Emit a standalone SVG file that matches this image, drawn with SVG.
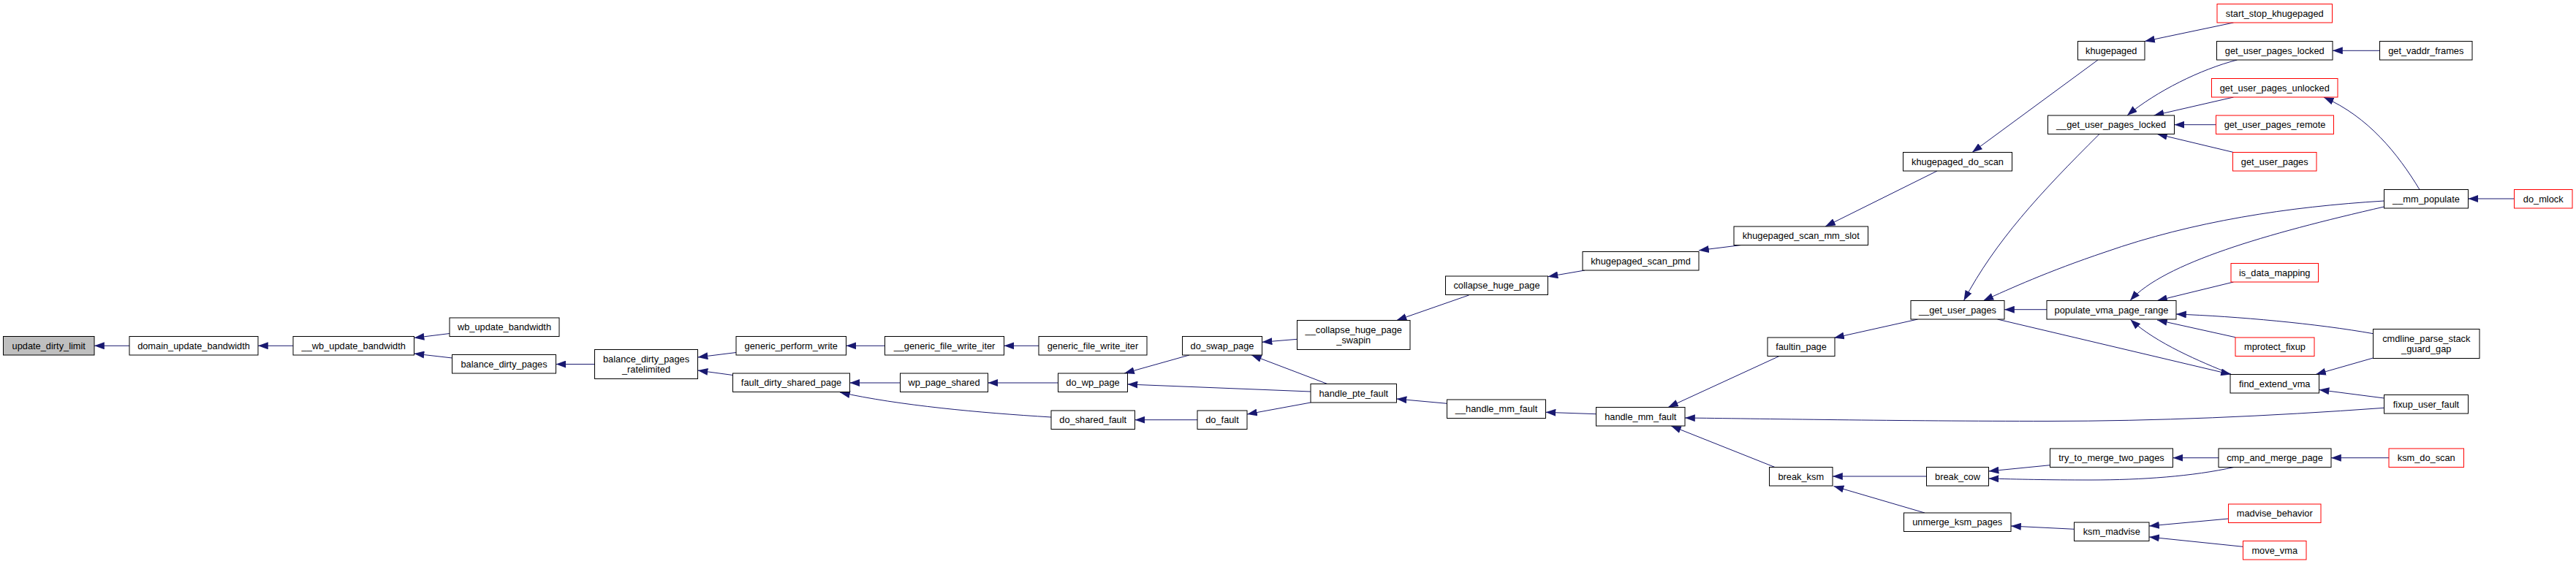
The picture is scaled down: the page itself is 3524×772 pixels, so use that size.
<svg xmlns="http://www.w3.org/2000/svg" width="3524" height="772" viewBox="0 0 3524 772">
<style>
.node rect{fill:#fff;stroke:#000;stroke-width:1}
.node.red rect{stroke:#ff0000}
.node.root rect{fill:#bfbfbf}
.node text{font-family:"Liberation Sans",Arial,sans-serif;font-size:12.8px;fill:#000;text-anchor:middle}
#edges path{fill:none;stroke:#191970;stroke-width:1;marker-end:url(#ah)}
</style>
<defs>
<marker id="ah" markerUnits="userSpaceOnUse" markerWidth="14" markerHeight="10" viewBox="0 0 13 9.4" refX="13" refY="4.7" orient="auto">
<path d="M0,0 L13,4.7 L0,9.4 z" fill="#191970" stroke="none"/>
</marker>
</defs>
<rect width="3524" height="772" fill="#fff"/>
<g id="edges">
<path d="M177,473.3 L129,473.3"/>
<path d="M401,473.3 L353,473.3"/>
<path d="M615,456.5 L566.5,462.5"/>
<path d="M618.5,490 L566.5,484"/>
<path d="M813.5,498.5 L760.5,498.5"/>
<path d="M1007,482.5 L954.5,489"/>
<path d="M1002.5,513.5 L954.5,507"/>
<path d="M1210.5,473.3 L1157.5,473.3"/>
<path d="M1421,473.3 L1373.5,473.3"/>
<path d="M1231.5,524 L1162.5,524"/>
<path d="M1447.5,524 L1351.5,524"/>
<path d="M1438,571 C1340,565 1230,555 1149,537"/>
<path d="M1627,486 L1538,511"/>
<path d="M1774.5,464.3 L1726.5,468.3"/>
<path d="M1815.8,525.5 L1712,486"/>
<path d="M1793,536 L1542.5,526"/>
<path d="M1793,551 L1706,567"/>
<path d="M1638,574.7 L1552.5,574.7"/>
<path d="M2009.5,404 L1910.5,438.5"/>
<path d="M2168,370 L2117.5,378.7"/>
<path d="M2382,335.5 L2324,342.7"/>
<path d="M2650,234 L2497,310"/>
<path d="M2870,82 L2698,208.5"/>
<path d="M3055.5,31 L2934,56.5"/>
<path d="M1979.5,552.3 L1910.5,546"/>
<path d="M2183.5,566.7 L2114.5,564.3"/>
<path d="M2434,487.5 L2282,557.5"/>
<path d="M3261.5,558.3 C3100,570 2950,576.5 2800,576.5 C2600,576.5 2400,573 2305,572"/>
<path d="M2428,639.5 L2286,583"/>
<path d="M2635.5,652 L2507,652"/>
<path d="M2633,702 L2508.5,665.5"/>
<path d="M2804.5,636.7 L2720.5,645"/>
<path d="M3056,639.5 C3000,652 2930,657 2860,657 C2800,657 2760,656 2720.5,655"/>
<path d="M3035,626.7 L2972.5,626.7"/>
<path d="M3268,626.7 L3189,626.7"/>
<path d="M2837.5,724.3 L2751,720"/>
<path d="M3048.5,710 L2940,720"/>
<path d="M3068.5,748.3 L2940,735"/>
<path d="M2800,423.7 L2742,423.7"/>
<path d="M2872,183.5 C2790,265 2730,330 2686.5,411.5"/>
<path d="M3261.5,275 C3130,283 3000,303 2880,345 C2800,372 2750,395 2713.3,411.5"/>
<path d="M3261.5,283 C3100,320 2960,360 2914,411.5"/>
<path d="M3055.5,386 L2951,411.5"/>
<path d="M3246.5,456.7 C3170,443 3060,433 2977,430"/>
<path d="M3058,461.7 L2951,438"/>
<path d="M3052,512 C3010,495 2950,470 2914.5,437.5"/>
<path d="M2732.5,437 L3052,512.5"/>
<path d="M3246.5,490 L3168,512.5"/>
<path d="M3261.5,545 L3172.5,533.5"/>
<path d="M3060.5,82 C3010,95 2950,125 2910,158"/>
<path d="M3055.5,133 L2946.5,158"/>
<path d="M3031.5,170.7 L2974.5,170.7"/>
<path d="M3055.5,208.5 L2951,183.5"/>
<path d="M3255.5,69.3 L3191,69.3"/>
<path d="M3310,259.5 C3280,210 3240,160 3178.8,133"/>
<path d="M3439.5,272 L3376.5,272"/>
<path d="M2623.5,437 L2509,462.5"/>
</g>
<g id="n_udl" class="node root"><rect x="4.5" y="460.5" width="124.5" height="25.5"/><text x="66.75" y="477.75">update_dirty_limit</text></g>
<g id="n_dub" class="node"><rect x="177" y="460.5" width="176" height="25.5"/><text x="265" y="477.75">domain_update_bandwidth</text></g>
<g id="n_wub" class="node"><rect x="401" y="460.5" width="165.5" height="25.5"/><text x="483.75" y="477.75">__wb_update_bandwidth</text></g>
<g id="n_wbu" class="node"><rect x="615" y="435" width="150" height="25.5"/><text x="690" y="452.25">wb_update_bandwidth</text></g>
<g id="n_bdp" class="node"><rect x="618.5" y="485.5" width="142" height="25.5"/><text x="689.5" y="502.75">balance_dirty_pages</text></g>
<g id="n_bdpr" class="node"><rect x="813.5" y="478.5" width="141" height="40"/><text x="884" y="496.35">balance_dirty_pages</text><text x="884" y="509.65">_ratelimited</text></g>
<g id="n_gpw" class="node"><rect x="1007" y="460.5" width="150.5" height="25.5"/><text x="1082.25" y="477.75">generic_perform_write</text></g>
<g id="n_fdsp" class="node"><rect x="1002.5" y="511" width="160" height="25.5"/><text x="1082.5" y="528.25">fault_dirty_shared_page</text></g>
<g id="n_gfwi2" class="node"><rect x="1210.5" y="460.5" width="163" height="25.5"/><text x="1292" y="477.75">__generic_file_write_iter</text></g>
<g id="n_gfwi" class="node"><rect x="1421" y="460.5" width="148" height="25.5"/><text x="1495" y="477.75">generic_file_write_iter</text></g>
<g id="n_dsp" class="node"><rect x="1617.5" y="460.5" width="109" height="25.5"/><text x="1672" y="477.75">do_swap_page</text></g>
<g id="n_wps" class="node"><rect x="1231.5" y="511" width="120" height="25.5"/><text x="1291.5" y="528.25">wp_page_shared</text></g>
<g id="n_dwp" class="node"><rect x="1447.5" y="511" width="95" height="25.5"/><text x="1495" y="528.25">do_wp_page</text></g>
<g id="n_dsf" class="node"><rect x="1438" y="562" width="114.5" height="25.5"/><text x="1495.25" y="579.25">do_shared_fault</text></g>
<g id="n_df" class="node"><rect x="1638" y="562" width="68" height="25.5"/><text x="1672" y="579.25">do_fault</text></g>
<g id="n_chps" class="node"><rect x="1774.5" y="438.5" width="154.5" height="40"/><text x="1851.75" y="456.35">__collapse_huge_page</text><text x="1851.75" y="469.65">_swapin</text></g>
<g id="n_hpf" class="node"><rect x="1793" y="525.5" width="117.5" height="25.5"/><text x="1851.75" y="542.75">handle_pte_fault</text></g>
<g id="n_chp" class="node"><rect x="1977.5" y="378" width="140" height="25.5"/><text x="2047.5" y="395.25">collapse_huge_page</text></g>
<g id="n_ksp" class="node"><rect x="2165" y="344.5" width="159" height="25.5"/><text x="2244.5" y="361.75">khugepaged_scan_pmd</text></g>
<g id="n_hmf2" class="node"><rect x="1979.5" y="547" width="135" height="25.5"/><text x="2047" y="564.25">__handle_mm_fault</text></g>
<g id="n_hmf" class="node"><rect x="2183.5" y="557.5" width="121.5" height="25.5"/><text x="2244.25" y="574.75">handle_mm_fault</text></g>
<g id="n_ksms" class="node"><rect x="2372" y="310" width="183.5" height="25.5"/><text x="2463.75" y="327.25">khugepaged_scan_mm_slot</text></g>
<g id="n_kds" class="node"><rect x="2603.5" y="208.5" width="149" height="25.5"/><text x="2678" y="225.75">khugepaged_do_scan</text></g>
<g id="n_kh" class="node"><rect x="2842.5" y="56.5" width="91.5" height="25.5"/><text x="2888.25" y="73.75">khugepaged</text></g>
<g id="n_sst" class="node red"><rect x="3033" y="5.5" width="157.5" height="25.5"/><text x="3111.75" y="22.75">start_stop_khugepaged</text></g>
<g id="n_gupl" class="node"><rect x="3032.5" y="56.5" width="158.5" height="25.5"/><text x="3111.75" y="73.75">get_user_pages_locked</text></g>
<g id="n_gvf" class="node"><rect x="3255.5" y="56.5" width="126.5" height="25.5"/><text x="3318.75" y="73.75">get_vaddr_frames</text></g>
<g id="n_gupu" class="node red"><rect x="3025.5" y="107.5" width="172.5" height="25.5"/><text x="3111.75" y="124.75">get_user_pages_unlocked</text></g>
<g id="n_gupl2" class="node"><rect x="2801.5" y="158" width="173" height="25.5"/><text x="2888" y="175.25">__get_user_pages_locked</text></g>
<g id="n_gupr" class="node red"><rect x="3031.5" y="158" width="161" height="25.5"/><text x="3112" y="175.25">get_user_pages_remote</text></g>
<g id="n_gup" class="node red"><rect x="3054.5" y="208.5" width="114.5" height="25.5"/><text x="3111.75" y="225.75">get_user_pages</text></g>
<g id="n_mmp" class="node"><rect x="3261.5" y="259.5" width="115" height="25.5"/><text x="3319" y="276.75">__mm_populate</text></g>
<g id="n_dml" class="node red"><rect x="3439.5" y="259.5" width="79.5" height="25.5"/><text x="3479.25" y="276.75">do_mlock</text></g>
<g id="n_idm" class="node red"><rect x="3052" y="360.5" width="119.5" height="25.5"/><text x="3111.75" y="377.75">is_data_mapping</text></g>
<g id="n_gup2" class="node"><rect x="2614" y="411.5" width="128" height="25.5"/><text x="2678" y="428.75">__get_user_pages</text></g>
<g id="n_pvpr" class="node"><rect x="2800" y="411.5" width="177" height="25.5"/><text x="2888.5" y="428.75">populate_vma_page_range</text></g>
<g id="n_mpf" class="node red"><rect x="3058" y="462" width="108" height="25.5"/><text x="3112" y="479.25">mprotect_fixup</text></g>
<g id="n_cpsg" class="node"><rect x="3246.5" y="450.5" width="145.5" height="40"/><text x="3319.25" y="468.35">cmdline_parse_stack</text><text x="3319.25" y="481.65">_guard_gap</text></g>
<g id="n_fev" class="node"><rect x="3051" y="512.5" width="121.5" height="25.5"/><text x="3111.75" y="529.75">find_extend_vma</text></g>
<g id="n_fuf" class="node"><rect x="3261.5" y="540.5" width="115" height="25.5"/><text x="3319" y="557.75">fixup_user_fault</text></g>
<g id="n_fp" class="node"><rect x="2418" y="462" width="92" height="25.5"/><text x="2464" y="479.25">faultin_page</text></g>
<g id="n_bk" class="node"><rect x="2420.5" y="639.5" width="86.5" height="25.5"/><text x="2463.75" y="656.75">break_ksm</text></g>
<g id="n_bc" class="node"><rect x="2635.5" y="639.5" width="85" height="25.5"/><text x="2678" y="656.75">break_cow</text></g>
<g id="n_ttm" class="node"><rect x="2804.5" y="614" width="168" height="25.5"/><text x="2888.5" y="631.25">try_to_merge_two_pages</text></g>
<g id="n_cmp" class="node"><rect x="3035" y="614" width="154" height="25.5"/><text x="3112" y="631.25">cmp_and_merge_page</text></g>
<g id="n_kdsc" class="node red"><rect x="3268" y="614" width="102.5" height="25.5"/><text x="3319.25" y="631.25">ksm_do_scan</text></g>
<g id="n_ukp" class="node"><rect x="2604.5" y="702" width="146.5" height="25.5"/><text x="2677.75" y="719.25">unmerge_ksm_pages</text></g>
<g id="n_km" class="node"><rect x="2837.5" y="715" width="102.5" height="25.5"/><text x="2888.75" y="732.25">ksm_madvise</text></g>
<g id="n_mb" class="node red"><rect x="3048.5" y="690" width="126.5" height="25.5"/><text x="3111.75" y="707.25">madvise_behavior</text></g>
<g id="n_mv" class="node red"><rect x="3068.5" y="740.5" width="86.5" height="25.5"/><text x="3111.75" y="757.75">move_vma</text></g>
</svg>
